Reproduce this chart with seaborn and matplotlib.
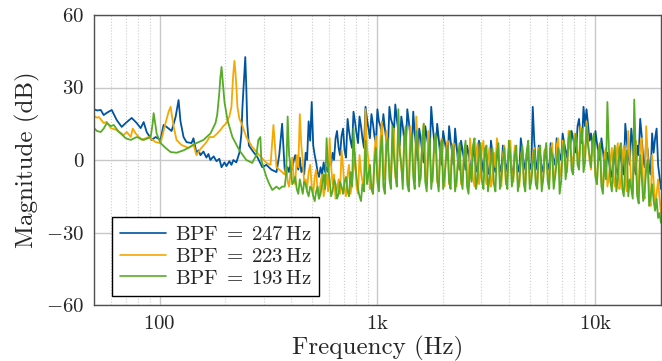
import pandas as pd
import matplotlib
matplotlib.use('Agg')
import matplotlib.pyplot as plt
import matplotlib.ticker as mticker
import seaborn as sns

# --- Werte (Frequenz in Hz, Betrag in dB) ---
series_names = [r'$\mathrm{BPF}\;=\;247\,\mathrm{Hz}$',
                r'$\mathrm{BPF}\;=\;223\,\mathrm{Hz}$',
                r'$\mathrm{BPF}\;=\;193\,\mathrm{Hz}$']
series_colors = ['#00549F', '#F6A800', '#57AB27']

# unterer Frequenzbereich, je Kurve eigene Stuetzstellen
blue_low_f = [50, 51.6, 53.7, 55.4, 57.2, 60.3, 63.6, 67.0, 70.7, 74.5,
              78.5, 81.9, 84.5, 87.2, 91.9, 95.9, 101, 104.3, 107.7, 113.5,
              118.4, 122.2, 124.7, 128.8, 132.9, 140.1, 143.0, 147.6, 151, 154,
              159, 164, 167.5, 171, 177, 182.5, 188, 192.4, 198.5, 202.7,
              209, 213.7, 218, 225, 232.4, 237.4, 240, 244.8, 247.3, 250,
              252.5, 257, 266, 281, 296, 309, 326, 344, 354, 365]
blue_low_db = [21, 20.5, 20.7, 18.6, 19.5, 20.7, 16.5, 13.7, 15.7, 17.4,
               15.3, 13.2, 15.7, 11.6, 8.3, 9.5, 8.3, 14.5, 13.7, 12,
               17.8, 24.8, 16, 9.5, 7.4, 7, 9, 3, 4, 2,
               3.5, 1, 2.5, 0, 1.5, -0.5, 0.5, -3, -1, -2.5,
               -0.5, -2, 0, -1, 3, 11, 22, 36, 42.6, 30,
               15, 6, 4, 1.2, -3, -2, -4, -5, 2, 15]

orange_low_f = [50, 51.6, 52.6, 55.4, 57.2, 59.7, 63.6, 68.4, 70.7, 73.7,
                75.3, 77.6, 82.7, 89.1, 95.9, 101, 106.5, 110, 112.3, 115.9,
                119.6, 126.1, 135.8, 143, 147.6, 154, 164.1, 169.4, 176.7, 184,
                190.2, 196, 202.7, 209, 213.7, 215.9, 218, 220.5, 223, 225.2,
                227.6, 232.4, 237.4, 250, 266, 287, 309, 323, 333, 344, 365]
orange_low_db = [18.2, 17.5, 17.8, 15.3, 15.8, 13.2, 12.4, 10.3, 11.6, 9.5,
                 13, 11, 8.3, 9.5, 7.4, 7, 15.3, 20, 22, 14,
                 8.3, 6.2, 5, 6.5, 2, 4.5, 7.4, 9.5, 9.5, 11,
                 12.4, 14, 15.3, 18, 22, 30, 36, 41, 36, 30,
                 22, 17, 15.3, 9.5, 5.4, 2, -1.2, -2, 14.5, -3, -5]

green_low_f = [50, 51.6, 53.7, 55.4, 57.2, 59.7, 61.6, 64.4, 66.3, 69.9,
               73.7, 78.5, 84.5, 91, 92.9, 93.9, 95.9, 96.9, 101, 106.5,
               112.3, 119.6, 128.8, 138.6, 147.6, 159, 171.2, 180.6, 184, 188,
               190, 192.4, 194.7, 198.5, 204.9, 215.9, 232.4, 250, 266, 278,
               284, 290, 293, 302, 309, 319, 329, 344, 354, 365]
green_low_db = [13.2, 12, 11.6, 13, 15.3, 14, 14.5, 12, 11, 9,
                8.3, 9.5, 8.3, 9.5, 15, 19.4, 14, 11, 7, 5,
                3.3, 3, 4, 5.5, 7, 8.3, 11, 15.3, 19, 28,
                34, 38.5, 33, 24, 16.5, 9.5, 4, 0, -1.2, 2,
                8.3, 9.5, 0, -4, -7, -10, -12.4, -11, -12, -11]

# oberer Frequenzbereich, gemeinsame Stuetzstellen (Raster + Zwischenpunkte)
high_f = [375, 387, 400, 413, 426, 440, 454, 468, 483, 499,
          515, 531, 548, 566, 584, 603, 622, 642, 663, 684,
          706, 729, 752, 776, 801, 827, 853, 881, 909, 938,
          968, 999, 1031, 1064, 1098, 1134, 1170, 1207, 1246, 1286,
          1327, 1370, 1414, 1459, 1506, 1554, 1604, 1656, 1709, 1764,
          1820, 1879, 1939, 2001, 2065, 2131, 2200, 2270, 2343, 2418,
          2496, 2576, 2658, 2744, 2832, 2922, 3016, 3113, 3213, 3316,
          3422, 3532, 3645, 3762, 3883, 4007, 4136, 4268, 4405, 4546,
          4692, 4843, 4998, 5158, 5323, 5494, 5670, 5852, 6040, 6233,
          6433, 6639, 6852, 7072, 7298, 7532, 7774, 8023, 8280, 8545,
          8819, 9101, 9393, 9694, 10005, 10325, 10656, 10997, 11350, 11713,
          12088, 12476, 12875, 13288, 13713, 14152, 14606, 15073, 15556, 16054,
          16568, 17099, 17646, 18211, 18794, 19396, 20000]
mid_f = [381, 393, 406, 419, 433, 447, 461, 475, 491, 507,
         523, 539, 557, 575, 593, 612, 632, 652, 673, 695,
         717, 740, 764, 788, 814, 840, 867, 895, 923, 953,
         983, 1015, 1047, 1081, 1116, 1152, 1188, 1226, 1266, 1306,
         1348, 1392, 1436, 1482, 1530, 1579, 1630, 1682, 1736, 1792,
         1849, 1909, 1970, 2033, 2098, 2165, 2235, 2306, 2380, 2457,
         2536, 2617, 2701, 2788, 2877, 2969, 3064, 3163, 3264, 3369,
         3477, 3588, 3703, 3822, 3945, 4071, 4202, 4336, 4475, 4619,
         4767, 4920, 5078, 5240, 5408, 5582, 5761, 5946, 6136, 6333,
         6536, 6745, 6962, 7185, 7415, 7653, 7898, 8151, 8412, 8682,
         8960, 9247, 9543, 9849, 10165, 10490, 10826, 11173, 11531, 11900,
         12282, 12675, 13081, 13500, 13932, 14379, 14839, 15314, 15805, 16311,
         16832, 17371, 17928, 18502, 19093, 19700]

blue_high_db = [-4, -3, -1, 0, -1, 1, -3, 3, 16, 24,
                2, -5, -3, -1, -3, 0, 3, 9, 5, 10,
                4, 17, 8, 20, 11, 18, 9, 22, 13, 19,
                10, 21, 14, 19, 8, 22, 15, 23, 12, 18,
                8, 21, 10, 20, 5, 13, 3, 14, 6, 22,
                8, 15, 2, 12, 4, 14, 3, 13, -1, 8,
                0, 6, -2, 5, -3, 8, -1, 5, -4, 8,
                -2, 4, -3, 6, -2, 5, -4, 4, -3, 9,
                -1, 3, -2, 22, -1, 6, -3, 4, -2, 7,
                0, 9, 2, 11, 4, 8, 12, 6, 14, 10,
                22, 21, 8, 5, 12, 3, 9, -2, 3, -5,
                2, -4, 5, -3, 15, 2, 13, -3, 6, 17,
                0, 8, -3, 11, 9, -2, -12]
blue_mid_db = [-6, -5, -4, 2, -4, -5, -6, 0, 8, 6,
               -1, -7, -6, -5, -5, -2, 0, 12, 2, 13,
               1, 12, 5, 16, 7, 14, 5, 17, 9, 15,
               7, 16, 10, 13, 4, 17, 11, 17, 6, 14,
               4, 16, 4, 11, 0, 9, -1, 10, 2, 14,
               3, 9, -2, 8, 0, 8, -2, 6, -4, 4,
               -4, 3, -5, 2, -5, 3, -5, 2, -6, 3,
               -5, 1, -5, 2, -5, 1, -6, 1, -5, 4,
               -4, 0, -4, 8, -4, 2, -5, 1, -4, 3,
               -2, 5, 0, 7, 1, 5, 9, 3, 17, 7,
               14, 15, 11, 2, 7, 0, 4, -5, 0, -7,
               0, -6, 1, -6, 8, -2, 7, -6, 2, 10,
               -3, 4, -6, 3, 13, -7]

orange_high_db = [-6, -9, -4, -8, 2, 19, 0, -8, -5, -11,
                  -7, -13, -9, -15, -6, 9, -10, -16, -8, 4,
                  -12, -6, -14, -4, -11, 2, -9, 21, 0, -10,
                  3, -6, 8, -4, 12, -2, 6, -7, 15, -3,
                  10, -8, 14, -4, 18, -2, 8, -6, 12, -5,
                  6, -9, 4, -7, 5, -10, 4, -8, 2, -10,
                  3, -7, 9, -8, 2, -10, 5, -6, 0, -11,
                  3, 9, -8, 2, -10, 4, -6, 6, -9, 1,
                  -7, 3, -10, 2, -8, 5, -11, 3, -6, 4,
                  -9, 6, -4, 8, -2, 12, 1, 11, 3, 14,
                  6, 16, 0, 8, -6, 4, -9, 2, -11, 0,
                  -8, 3, -12, 2, -9, 12, -10, 4, -14, 6,
                  -12, 14, -15, 2, -18, -8, -22]
orange_mid_db = [-2, -11, 1, -10, -3, 6, -10, -12, -2, -14,
                 -4, -16, -6, -11, -13, -2, -6, -12, -14, -3,
                 -15, -2, -10, 3, -14, -5, -13, 5, -12, -14,
                 10, -9, 16, -8, 5, -8, 13, -10, 4, -9,
                 3, -11, 6, -9, 7, -8, 15, -10, 3, -9,
                 10, -11, 9, -11, 8, -6, 7, -11, 6, -7,
                 6, -11, 2, -11, 7, -6, 8, -10, 5, -8,
                 -3, 4, -11, 6, -7, 8, -9, 2, -11, 5,
                 -10, 6, -7, 5, -10, 1, -7, 6, -9, 7,
                 -6, 9, -7, 4, -5, 5, -3, 7, -1, 9,
                 1, 9, -4, 2, -10, 7, -12, 5, -7, 5,
                 -11, 7, -9, 6, -13, 2, -14, 8, -10, 9,
                 -16, 3, -19, -9, -14, -16]

green_high_db = [-11, 18, -3, -9, -12, -8, -14, -10, -15, -12,
                 -17, -11, -14, -6, 9, -8, -13, -10, -14, -11,
                 -9, -13, -5, 13, -7, -15, -10, 8, -6, -12,
                 -1, -9, 3, -11, 6, -8, 14, -5, 21, -2,
                 9, -10, 5, -7, 12, -11, 8, -9, 2, -12,
                 7, -8, 4, -12, 1, -9, 6, -13, 0, -8,
                 3, -11, -2, 6, -12, 1, -9, 4, -13, -1,
                 -10, 3, -12, 0, -9, 8, -11, 2, -13, 0,
                 -10, 4, -12, -2, -10, 3, -13, 1, -9, 5,
                 -12, -1, -14, 4, -8, 9, -4, 7, -2, 10,
                 -5, 14, 2, 8, -7, 3, -11, 0, 24, -9,
                 1, -13, 4, -12, 0, -15, -12, 25, -15, 2,
                 -17, -4, -19, -10, -21, -24, -26]
green_mid_db = [-6, 2, -10, -7, -14, -11, -9, -13, -11, -15,
                -13, -16, -10, -12, -3, -15, -8, -16, -9, -14,
                -7, -15, -11, 0, -12, -17, -13, -10, -2, -14,
                5, -13, 10, -14, 9, -12, 2, -11, 3, -12,
                14, -13, 11, -12, 4, -6, 15, -13, 9, -6,
                11, -13, 8, -6, 6, -12, 3, -8, 7, -12,
                8, -14, -9, 9, -8, 7, -12, 6, -8, 5,
                -13, 7, -7, 5, -12, 2, -7, 6, -9, 6,
                -13, 8, -9, 4, -12, 6, -8, 7, -12, 2,
                -7, 5, -9, 8, -3, 12, -6, 11, -4, 13,
                -1, 6, -3, 11, -10, 7, -14, -8, 5, -13,
                6, -8, 7, -15, 4, -8, -16, 3, -18, -7,
                -13, 0, -15, -17, -16, -22]

x_ticks = [100, 1000, 10000]
x_tick_labels = [r'$100$', r'$1\mathrm{k}$', r'$10\mathrm{k}$']
y_ticks = [-60, -30, 0, 30, 60]
y_tick_labels = [r'$-60$', r'$-30$', r'$0$', r'$30$', r'$60$']

# Tabelle fuer seaborn
frames = []
for name, f_low, db_low, db_high, db_mid in [
        (series_names[0], blue_low_f, blue_low_db, blue_high_db, blue_mid_db),
        (series_names[1], orange_low_f, orange_low_db, orange_high_db, orange_mid_db),
        (series_names[2], green_low_f, green_low_db, green_high_db, green_mid_db)]:
    frames.append(pd.DataFrame({'f': f_low + high_f + mid_f,
                                'db': db_low + db_high + db_mid,
                                'serie': name}))
df = pd.concat(frames, ignore_index=True)

sns.set_style('white')
plt.rcParams['font.family'] = 'serif'
plt.rcParams['font.serif'] = ['cmr10']
plt.rcParams['mathtext.fontset'] = 'cm'

fig = plt.figure(figsize=(6.62, 3.61), dpi=100)
ax = fig.add_axes([94 / 662, 56 / 361, 567 / 662, 290 / 361])
ax.set_xscale('log')

sns.lineplot(data=df, x='f', y='db', hue='serie', hue_order=series_names,
             palette=series_colors, estimator=None, sort=True,
             linewidth=1.3, ax=ax)

ax.set_xlim(50, 20000)
ax.set_ylim(-60, 60)
ax.set_xticks(x_ticks, labels=x_tick_labels)
ax.xaxis.set_minor_locator(mticker.LogLocator(base=10, subs=range(2, 10)))
ax.xaxis.set_minor_formatter(mticker.NullFormatter())
ax.set_yticks(y_ticks, labels=y_tick_labels)
ax.tick_params(which='both', length=0, labelsize=15, pad=7)

ax.grid(which='major', color='#c8c8c8', linewidth=1.0)
ax.grid(which='minor', axis='x', color='#cccccc', linestyle=':', linewidth=0.8)
ax.set_axisbelow(True)
for s in ax.spines.values():
    s.set_color('#505050')
    s.set_linewidth(1.0)

ax.set_xlabel('Frequency (Hz)', fontsize=18, labelpad=2)
ax.set_ylabel('Magnitude (dB)', fontsize=18, labelpad=4)

leg = ax.legend(title=None, loc='lower left', bbox_to_anchor=(0.032, 0.031),
                borderaxespad=0, frameon=True, fancybox=False, framealpha=1,
                edgecolor='black', fontsize=15, handlelength=2.2,
                handletextpad=0.4, labelspacing=0.15, borderpad=0.4)
leg.get_frame().set_linewidth(1.0)
for line in leg.get_lines():
    line.set_linewidth(1.2)

fig.savefig('out.png', dpi=100)
